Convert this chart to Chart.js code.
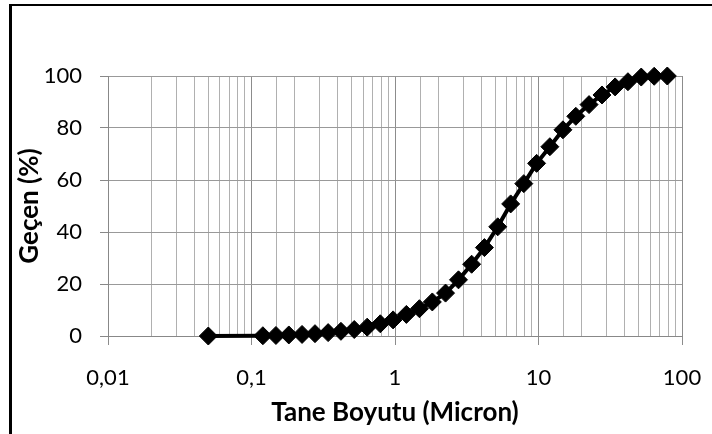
<!DOCTYPE html>
<html>
<head>
<meta charset="utf-8">
<script src="https://cdn.jsdelivr.net/npm/chart.js@4/dist/chart.umd.min.js"></script>
<style>
  html, body { margin: 0; padding: 0; background: #fff; }
  #wrap { position: relative; width: 712px; height: 434px; overflow: hidden; }
  #frame { position: absolute; left: 9px; top: 4px; width: 720px; height: 440px;
           border-left: 3px solid #000; border-top: 2px solid #000; box-sizing: border-box; pointer-events: none; }
  canvas { position: absolute; left: 0; top: 0; }
</style>
</head>
<body>
<div id="wrap">
  <canvas id="c" width="712" height="434"></canvas>
  <div id="frame"></div>
</div>
<script>
// Particle size (micron) and cumulative passing (%)
const sizes = [0.05, 0.12, 0.148, 0.182, 0.225, 0.277, 0.342, 0.42, 0.52, 0.64, 0.79, 0.97, 1.2, 1.48, 1.82,
  2.25, 2.77, 3.42, 4.2, 5.2, 6.4, 7.9, 9.7, 12, 14.8, 18.2, 22.5, 27.7, 34.2, 42, 52, 64, 79];
const passing = [0, 0.1, 0.2, 0.4, 0.6, 0.9, 1.3, 1.8, 2.5, 3.4, 4.7, 6.2, 8.3, 10.5, 13.1,
  16.5, 21.6, 27.6, 34, 42, 50.8, 58.6, 66.4, 72.8, 79.3, 84.5, 89, 92.7, 95.8, 97.8, 99.6, 99.9, 100];
const xDecadeLabels = {0.01: '0,01', 0.1: '0,1', 1: '1', 10: '10', 100: '100'};
const yTicks = [0, 20, 40, 60, 80, 100];
const xTitle = 'Tane Boyutu (Micron)';
const yTitle = 'Geçen (%)';

const FONT = 'Lato, "Open Sans", sans-serif';
function isDecade(v) {
  const l = Math.log10(v);
  return Math.abs(l - Math.round(l)) < 1e-6;
}

new Chart(document.getElementById('c'), {
  type: 'line',
  data: {
    datasets: [{
      data: sizes.map((s, i) => ({x: s, y: passing[i]})),
      borderColor: '#000',
      backgroundColor: '#000',
      borderWidth: 4,
      pointStyle: 'rectRot',
      pointRadius: 9,
      pointBorderWidth: 1,
      pointBorderColor: '#000',
      pointBackgroundColor: '#000',
      tension: 0,
      clip: false
    }]
  },
  options: {
    responsive: false,
    animation: false,
    devicePixelRatio: 1,
    layout: { padding: { left: 0, top: 76, right: 30, bottom: 0 } },
    plugins: { legend: { display: false }, tooltip: { enabled: false } },
    scales: {
      x: {
        type: 'logarithmic',
        min: 0.01, max: 100,
        afterFit: (s) => { s.height = 98; s.paddingLeft = 0; s.paddingRight = 0; },
        border: { color: '#888888', width: 1 },
        grid: {
          color: (ctx) => (ctx.tick && isDecade(ctx.tick.value)) ? '#8c8c8c' : '#b0b0b0',
          tickColor: (ctx) => (ctx.tick && isDecade(ctx.tick.value)) ? '#8c8c8c' : 'rgba(0,0,0,0)',
          tickLength: 9,
          drawTicks: true
        },
        ticks: {
          autoSkip: false,
          maxRotation: 0,
          padding: 20,
          color: '#000',
          font: { family: FONT, size: 22 },
          callback: (v) => {
            for (const k in xDecadeLabels) { if (Math.abs(Math.log10(v) - Math.log10(+k)) < 1e-6) return xDecadeLabels[k]; }
            return '';
          }
        },
        title: {
          display: true, text: xTitle, color: '#000',
          font: { family: FONT, size: 26, weight: 'bold' },
          padding: { top: 0, bottom: 6 }
        }
      },
      y: {
        type: 'linear',
        min: 0, max: 100,
        afterFit: (s) => { s.width = 108; s.paddingTop = 0; s.paddingBottom = 0; },
        afterBuildTicks: (s) => { s.ticks = yTicks.map(v => ({value: v})); },
        border: { color: '#888888', width: 1 },
        grid: { color: '#999999', tickColor: '#888888', tickLength: 8 },
        ticks: {
          padding: 18,
          color: '#000',
          font: { family: FONT, size: 22 }
        },
        title: {
          display: true, text: yTitle, color: '#000',
          font: { family: FONT, size: 26, weight: 'bold' },
          padding: { top: 14, bottom: 0 }
        }
      }
    }
  }
});
</script>
</body>
</html>
